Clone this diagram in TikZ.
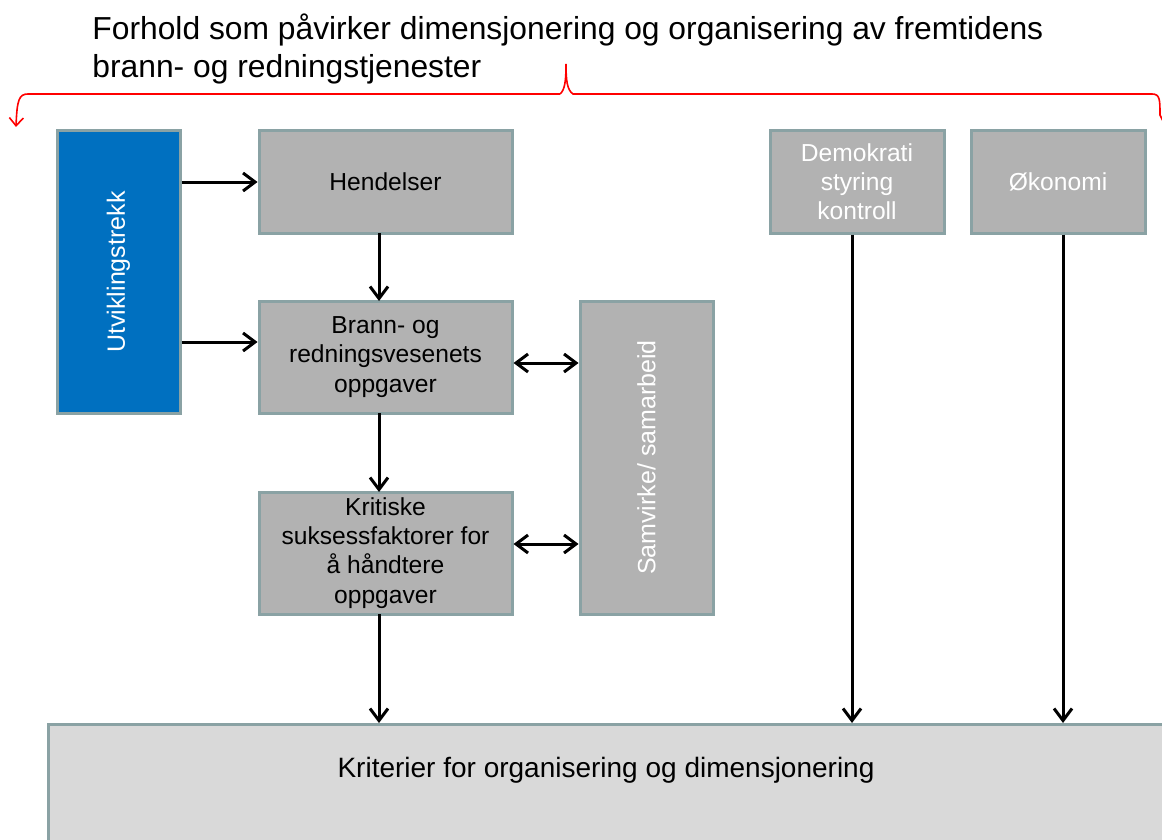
\documentclass[tikz,border=0pt]{standalone}
\usepackage{fontspec}
\setmainfont{Liberation Sans}
\usetikzlibrary{arrows.meta}
\definecolor{boxgray}{HTML}{B2B2B2}
\definecolor{boxedge}{HTML}{8AA2A4}
\definecolor{blueb}{HTML}{0070C0}
\definecolor{lightb}{HTML}{D9D9D9}
\begin{document}
\begin{tikzpicture}[x=0.5pt,y=-0.5pt,
  box/.style={draw=boxedge, line width=1.5pt, fill=boxgray, inner sep=0pt, align=center,
    font=\fontsize{12.3}{14.6}\selectfont},
  wbox/.style={box, text=white},
  arr/.style={line width=1.5pt, -{Straight Barb[length=6pt,width=9pt,line width=1.5pt]}},
  darr/.style={line width=1.5pt, {Straight Barb[length=6pt,width=9pt,line width=1.5pt]}-{Straight Barb[length=6pt,width=9pt,line width=1.5pt]}}]
\useasboundingbox (0,0) rectangle (1162,840);
\clip (0,0) rectangle (1162,840);
% title
\node[anchor=base west, align=left, inner sep=0pt, font=\fontsize{15.9}{19}\selectfont] (title) at (92,78)
  {Forhold som påvirker dimensjonering og organisering av fremtidens\\brann- og redningstjenester};
% red brace
\draw[red, line width=0.8pt, -{Straight Barb[length=4pt,width=7pt,line width=0.8pt]}]
  (560,94) -- (28,94) .. controls (19,94) and (17,100) .. (16,127);
\draw[red, line width=0.8pt]
  (560,94) .. controls (565,90) and (566,80) .. (566,64) .. controls (566,80) and (567,90) .. (573,94)
  -- (1152,94) .. controls (1160,94) and (1160,100) .. (1160,115) -- (1163,121);
% boxes
\node[box, fill=blueb, minimum width=61.5pt, minimum height=141pt] (utv) at (118.5,272) {};
\node[rotate=90, text=white, font=\fontsize{12.5}{14}\selectfont] (utvt) at (utv.center) {Utviklingstrekk};
\node[box, minimum width=126.5pt, minimum height=51pt] (hend) at (385.5,182) {Hendelser};
\node[box, minimum width=126.5pt, minimum height=56pt] (brann) at (385.5,357) {Brann- og\\redningsvesenets\\oppgaver};
\node[box, minimum width=126.5pt, minimum height=61pt] (krit) at (385.5,553) {Kritiske\\suksessfaktorer for\\å håndtere\\oppgaver};
\node[box, minimum width=66.5pt, minimum height=156.5pt] (samv) at (646.5,457.5) {};
\node[rotate=90, text=white, font=\fontsize{12.5}{14}\selectfont] (samvt) at (samv.center) {Samvirke/ samarbeid};
\node[wbox, minimum width=87pt, minimum height=51pt] (demo) at (857,182) {Demokrati\\styring\\kontroll};
\node[wbox, minimum width=87pt, minimum height=51pt] (oko) at (1058,182) {Økonomi};
\node[box, fill=lightb, minimum width=600pt, minimum height=100pt, anchor=north west] (krit2) at (47,723) {};
\node[font=\fontsize{14}{16}\selectfont] (kritt) at (606,770) {Kriterier for organisering og dimensjonering};
% connectors
\draw[arr] (utv.east |- hend.west) -- (hend.west);
\draw[arr] (utv.east |- 0,342) -- (brann.west |- 0,342);
\draw[arr] (379,233) -- (379,301);
\draw[arr] (379,413) -- (379,492);
\draw[arr] (379,614) -- (379,723);
\draw[darr] (brann.east |- 0,363) -- (samv.west |- 0,363);
\draw[darr] (krit.east |- 0,544) -- (samv.west |- 0,544);
\draw[arr] (demo.south -| 852,0) -- (852,723);
\draw[arr] (oko.south -| 1063,0) -- (1063,723);
\end{tikzpicture}
\end{document}
